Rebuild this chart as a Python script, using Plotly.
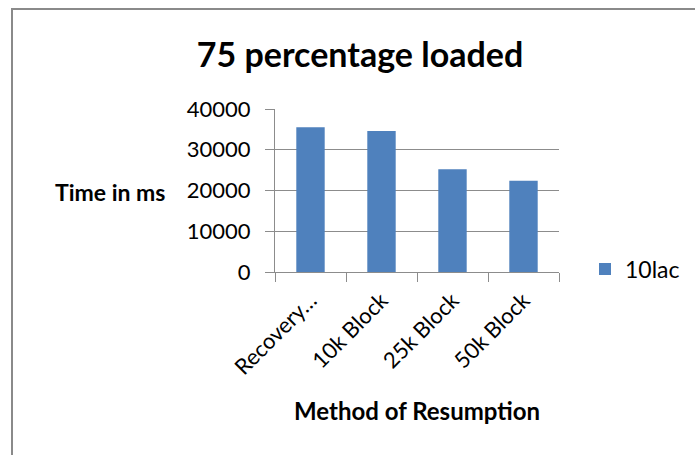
import plotly.graph_objects as go

# Resumption methods and their measured load times (ms)
methods = ["Recovery…", "10k Block", "25k Block", "50k Block"]
times_ms = [35500, 34600, 25200, 22400]
series_name = "10lac"

y_ticks = [0, 10000, 20000, 30000, 40000]

W, H = 695, 455
L, R, T, B = 275, 136, 109, 183
pw, ph = W - L - R, H - T - B


def px_x(x):
    return (x - L) / pw


def px_y(y):
    return (H - B - y) / ph


fig = go.Figure()
fig.add_trace(go.Bar(
    x=methods, y=times_ms, name=series_name,
    marker=dict(color="#4F81BD", line=dict(width=0)),
    showlegend=True,
))

grid = "#8C8C8C"
font = "Lato, 'Open Sans', sans-serif"

fig.update_layout(
    width=W, height=H,
    margin=dict(l=L, r=R, t=T, b=B, autoexpand=False),
    paper_bgcolor="white", plot_bgcolor="white",
    font=dict(family=font, color="#000000", size=20),
    bargap=0.6,
    showlegend=True,
    title=dict(text="<b>75 percentage loaded</b>", x=0.518, xanchor="center",
               y=1 - 55 / H, yanchor="middle",
               font=dict(size=34, family=font, color="#000000")),
    legend=dict(x=px_x(585), y=px_y(269), xanchor="left", yanchor="middle",
                font=dict(size=23, family=font), itemwidth=30,
                bgcolor="rgba(0,0,0,0)"),
    xaxis=dict(
        type="category", tickangle=-45, tickson="boundaries",
        ticks="outside", ticklen=9, tickcolor=grid, tickwidth=1,
        showline=True, linecolor=grid, linewidth=1,
        showgrid=False, tickfont=dict(size=22, family=font),
        ticklabelstandoff=6, automargin=False,
    ),
    yaxis=dict(
        range=[0, 40000], tickvals=y_ticks, ticktext=[str(v) for v in y_ticks],
        ticks="outside", ticklen=9, tickcolor=grid, tickwidth=1,
        showline=True, linecolor=grid, linewidth=1,
        showgrid=True, gridcolor=grid, gridwidth=1, zeroline=False,
        tickfont=dict(size=22, family=font), ticklabelstandoff=10,
        automargin=False,
    ),
    annotations=[
        dict(text="<b>Time in ms</b>", xref="paper", yref="paper",
             x=px_x(110), y=px_y(192), xanchor="center", yanchor="middle",
             showarrow=False, font=dict(size=23, family=font)),
        dict(text="<b>Method of Resumption</b>", xref="paper", yref="paper",
             x=px_x(417), y=px_y(410), xanchor="center", yanchor="middle",
             showarrow=False, font=dict(size=24, family=font)),
    ],
    shapes=[
        dict(type="rect", xref="paper", yref="paper",
             x0=px_x(12), x1=px_x(720), y0=px_y(480), y1=px_y(9),
             line=dict(color="#8A8A8A", width=2), fillcolor="rgba(0,0,0,0)",
             layer="below"),
    ],
)

fig.write_html("out.html")
